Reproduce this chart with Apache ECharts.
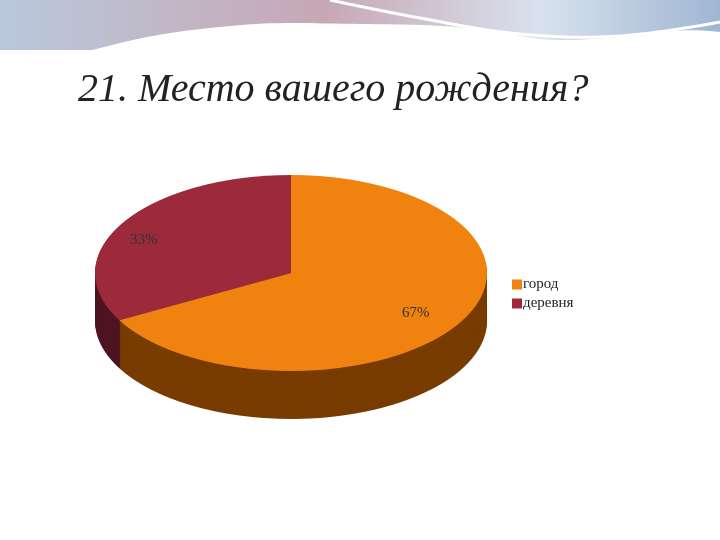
<!DOCTYPE html>
<html><head><meta charset="utf-8">
<script src="https://cdn.jsdelivr.net/npm/echarts@6/dist/echarts.min.js"></script>
<style>
body{margin:0;background:#fff}
#wrap{position:relative;width:720px;height:540px;overflow:hidden}
#pie{position:absolute;left:0;top:0;width:720px;height:1080px;transform:scaleY(0.5);transform-origin:0 0}
#over{position:absolute;left:0;top:0;width:720px;height:540px}
</style></head>
<body><div id="wrap"><div id="pie"></div><div id="over"></div></div>
<script>
const categories = ['город', 'деревня'];
const values = [67, 33];
const topColors = ['#f0820f', '#9c2a3a'];
const sideColors = ['#783c00', '#4e1420'];

// ---- pie (vertically squashed by CSS to look 3D) ----
const pie = echarts.init(document.getElementById('pie'));
const series = [];
const cx = 291, cy = 546, r = 196, depth = 96;
for (let d = depth; d > 0; d -= 3) {
  series.push({
    type: 'pie', silent: true, animation: false, startAngle: 90, clockwise: true,
    center: [cx, cy + d], radius: r, label: { show: false },
    data: values.map((v, i) => ({ value: v, name: categories[i], itemStyle: { color: sideColors[i] } })),
  });
}
series.push({
  type: 'pie', animation: false, startAngle: 90, clockwise: true,
  center: [cx, cy], radius: r, label: { show: false },
  data: values.map((v, i) => ({ value: v, name: categories[i], itemStyle: { color: topColors[i] } })),
});
pie.setOption({ series });

// ---- title, labels, legend, decoration ----
const over = echarts.init(document.getElementById('over'));
over.setOption({
  legend: {
    data: categories, orient: 'vertical', left: 507, top: 272, itemGap: 4,
    itemWidth: 10, itemHeight: 10, icon: 'rect',
    textStyle: { fontFamily: 'Liberation Serif', fontSize: 15, color: '#222', padding: [0, 0, 0, -4] },
  },
  series: [{ type: 'pie', radius: 0, data: values.map((v, i) => ({ value: v, name: categories[i], itemStyle: { color: topColors[i] } })), label: { show: false }, silent: true }],
  graphic: [
    { type: 'rect', shape: { x: 0, y: 0, width: 720, height: 50 },
      style: { fill: new echarts.graphic.LinearGradient(0, 0, 1, 0, [
        { offset: 0, color: '#b9c9dc' }, { offset: 0.45, color: '#c7a7b4' },
        { offset: 0.75, color: '#d8e2ee' }, { offset: 1, color: '#9fb6d2' }]) } },
    { type: 'polygon', shape: { smooth: 0.4, points: [[0, 85], [100, 48], [230, 26], [360, 24], [470, 28], [560, 40], [720, 32], [720, 60], [0, 60]] }, style: { fill: '#fff' } },
    { type: 'polyline', shape: { smooth: 0.4, points: [[330, 0], [420, 18], [520, 34], [620, 36], [720, 22]] }, style: { stroke: '#fff', lineWidth: 3, fill: null } },
    { type: 'text', left: 78, top: 70, style: { text: '21. Место вашего рождения?', font: 'italic 40px "Liberation Serif"', fill: '#222' } },
    { type: 'text', left: 130, top: 233, style: { text: values[1] + '%', font: '15px "Liberation Serif"', fill: '#333' } },
    { type: 'text', left: 402, top: 306, style: { text: values[0] + '%', font: '15px "Liberation Serif"', fill: '#333' } },
  ],
});
</script></body></html>
